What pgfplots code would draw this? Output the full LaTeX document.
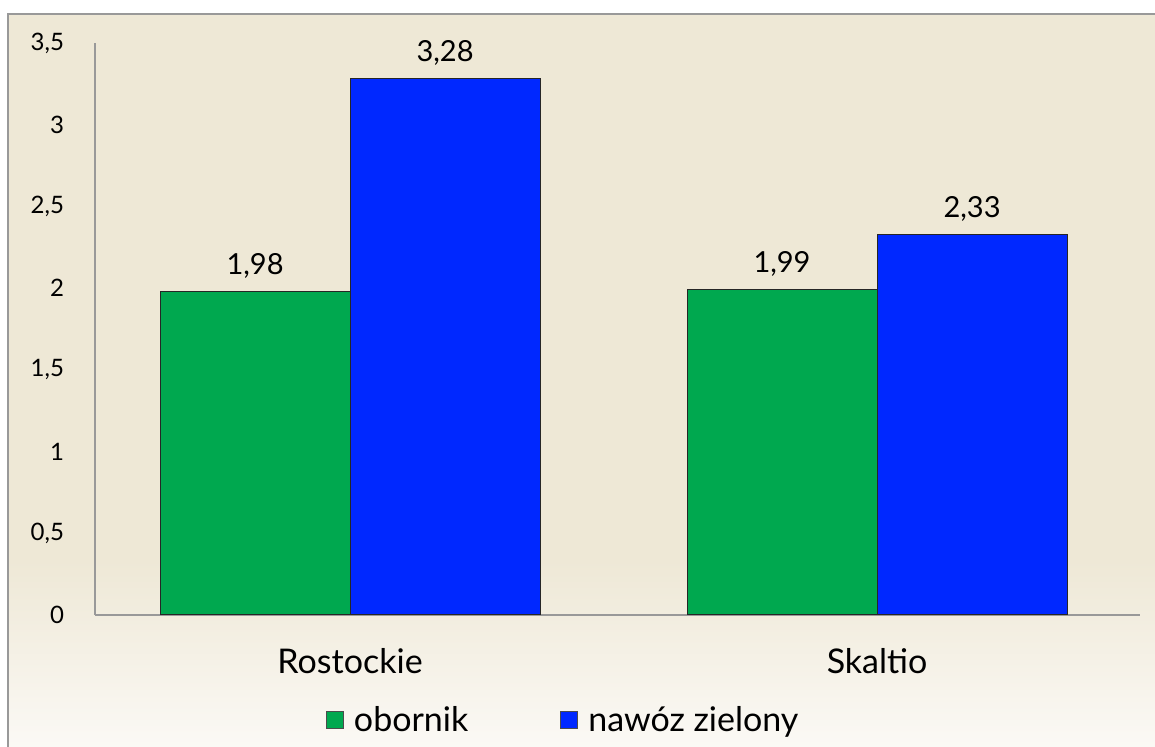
\documentclass[border=0pt]{standalone}
\usepackage{fontspec}
\setmainfont{Lato}
\usepackage{pgfplots}
\pgfplotsset{compat=1.18}
\definecolor{bgbeige}{HTML}{EEE8D6}
\definecolor{bglight}{HTML}{FBF9F5}
\definecolor{bargreen}{HTML}{00A84F}
\definecolor{barblue}{HTML}{0028FF}
\begin{document}
\begin{tikzpicture}[x=1pt,y=1pt]
\useasboundingbox (0,0) rectangle (577.5,373.5);
\fill[white] (0,0) rectangle (577.5,373.5);
\fill[bgbeige] (4,93.5) rectangle (577.5,366.5);
\shade[top color=bgbeige, bottom color=bglight] (4,0) rectangle (577.5,93.5);
\draw[gray!80, line width=1pt] (4,0) -- (4,366.5) -- (577.5,366.5);
\begin{axis}[
  at={(47.5pt,66pt)}, anchor=south west,
  width=522.5pt, height=286pt, scale only axis,
  ybar=0pt, bar width=95pt,
  xmin=-0.484, xmax=1.499, ymin=0, ymax=3.5,
  xtick={0,1}, xticklabels={Rostockie,Skaltio},
  ytick={0,0.5,1,1.5,2,2.5,3,3.5},
  axis lines=left, axis line style={-, draw=gray!80, line width=0.6pt},
  major tick length=0pt,
  /pgf/number format/use comma,
  /pgf/number format/assume math mode=true,
  yticklabel style={font=\fontsize{12}{14}\selectfont, xshift=-12pt},
  xticklabel style={font=\fontsize{17}{19}\selectfont, yshift=-13pt},
  nodes near coords,
  nodes near coords style={font=\fontsize{14.5}{16}\selectfont,
    /pgf/number format/fixed, /pgf/number format/precision=2,
    /pgf/number format/fixed zerofill, /pgf/number format/use comma,
    /pgf/number format/assume math mode=true, yshift=3pt},
  legend style={at={(0.449,-0.1836)}, anchor=center, draw=none, fill=none,
    font=\fontsize{17}{19}\selectfont,
    /tikz/every odd column/.append style={column sep=3pt},
    /tikz/every even column/.append style={column sep=44pt}},
  legend columns=2,
  legend image code/.code={\draw[#1, draw=black!70, line width=0.5pt] (0pt,-4pt) rectangle (8.5pt,4.5pt);},
]
\addplot[fill=bargreen, draw=black!85, line width=0.5pt] coordinates {(0,1.98) (1,1.99)};
\addplot[fill=barblue, draw=black!85, line width=0.5pt] coordinates {(0,3.28) (1,2.33)};
\legend{obornik, nawóz zielony}
\end{axis}
\end{tikzpicture}
\end{document}
